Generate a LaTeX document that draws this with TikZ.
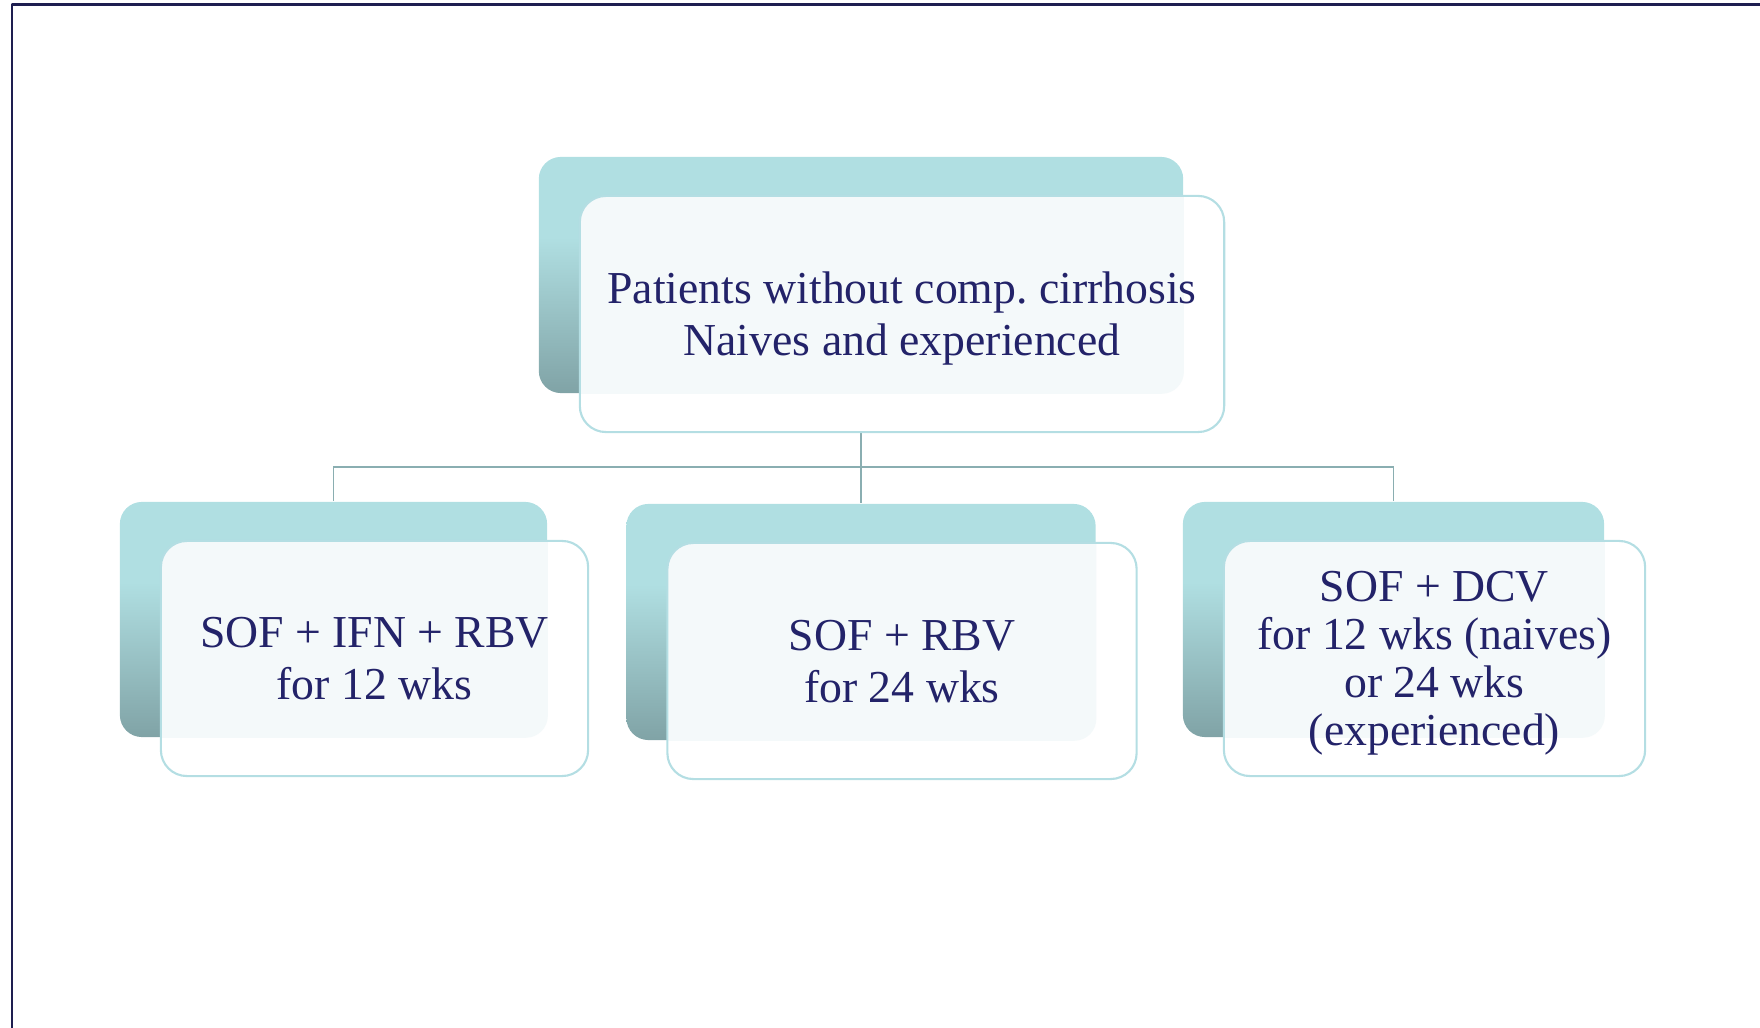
\documentclass[tikz,border=0pt]{standalone}
\usepackage{fontspec}
\setmainfont{Liberation Serif}
\frenchspacing
\usetikzlibrary{positioning,backgrounds,calc}
\definecolor{frameblue}{RGB}{30,30,80}
\definecolor{textblue}{RGB}{35,35,105}
\definecolor{backtop}{RGB}{176,223,226}
\definecolor{backbot}{RGB}{128,163,166}
\definecolor{frontedge}{RGB}{180,222,227}
\definecolor{linkgrey}{RGB}{138,174,177}
\definecolor{dotfill}{RGB}{244,249,250}
\pgfdeclareverticalshading{backshade}{100bp}{color(0bp)=(backbot); color(25bp)=(backbot); color(58bp)=(backtop); color(100bp)=(backtop)}
\tikzset{>=latex,
  backbox/.style={rounded corners=0.22cm, shade, shading=backshade, minimum height=2.36cm},
  frontbox/.style={draw=frontedge, line width=0.6pt, fill=white, rounded corners=0.26cm,
    minimum height=2.36cm, text=textblue, align=center, text depth=0pt,
    font=\fontsize{13}{14.8}\selectfont},
  dots/.style={path picture={\fill[dotfill, rounded corners=0.22cm]
    ([shift={(-1cm,1cm)}]path picture bounding box.north west) rectangle (#1.south east);}},
  link/.style={draw=linkgrey, line width=0.55pt}
}

\begin{document}
\begin{tikzpicture}[x=0.01cm, y=-0.01cm, line join=round]
    \useasboundingbox (0,0) rectangle (1760,1028);
    \draw[frameblue, line width=0.85pt] (1760,5) -- (12,5) -- (12,1028);

    \node[backbox, minimum width=6.44cm] (topback) at (861,275) {};
    \node[frontbox, dots=topback, minimum width=6.44cm] (topfront) at ([shift={(41,39)}]topback.center) {Patients without comp. cirrhosis\\Naives and experienced};

    \node[backbox, minimum width=4.27cm, minimum height=2.35cm] (leftback) at (333.5,619.5) {};
    \node[frontbox, dots=leftback, minimum width=4.27cm, minimum height=2.35cm] (leftfront) at ([shift={(41,39)}]leftback.center) {SOF + IFN + RBV\\for 12 wks};

    \node[backbox, minimum width=4.69cm] (midback) at (861,622) {};
    \node[frontbox, dots=midback, minimum width=4.69cm] (midfront) at ([shift={(41,39)}]midback.center) {SOF + RBV\\for 24 wks};

    \node[backbox, minimum width=4.21cm, minimum height=2.35cm] (rightback) at (1393.5,619.5) {};
    \node[frontbox, dots=rightback, minimum width=4.21cm, minimum height=2.35cm, font=\fontsize{13}{13.7}\selectfont] (rightfront) at ([shift={(41,39)}]rightback.center) {SOF + DCV\\for 12 wks (naives)\\or 24 wks\\(experienced)};

    \coordinate (fork) at ($(topback.south)+(0,73)$);
    \begin{scope}[on background layer]
        \draw[link] (topback.south) -- (fork) -| (leftback.north);
        \draw[link] (fork) -| (rightback.north);
        \draw[link] (fork) -- (midback.north);
    \end{scope}
\end{tikzpicture}
\end{document}
